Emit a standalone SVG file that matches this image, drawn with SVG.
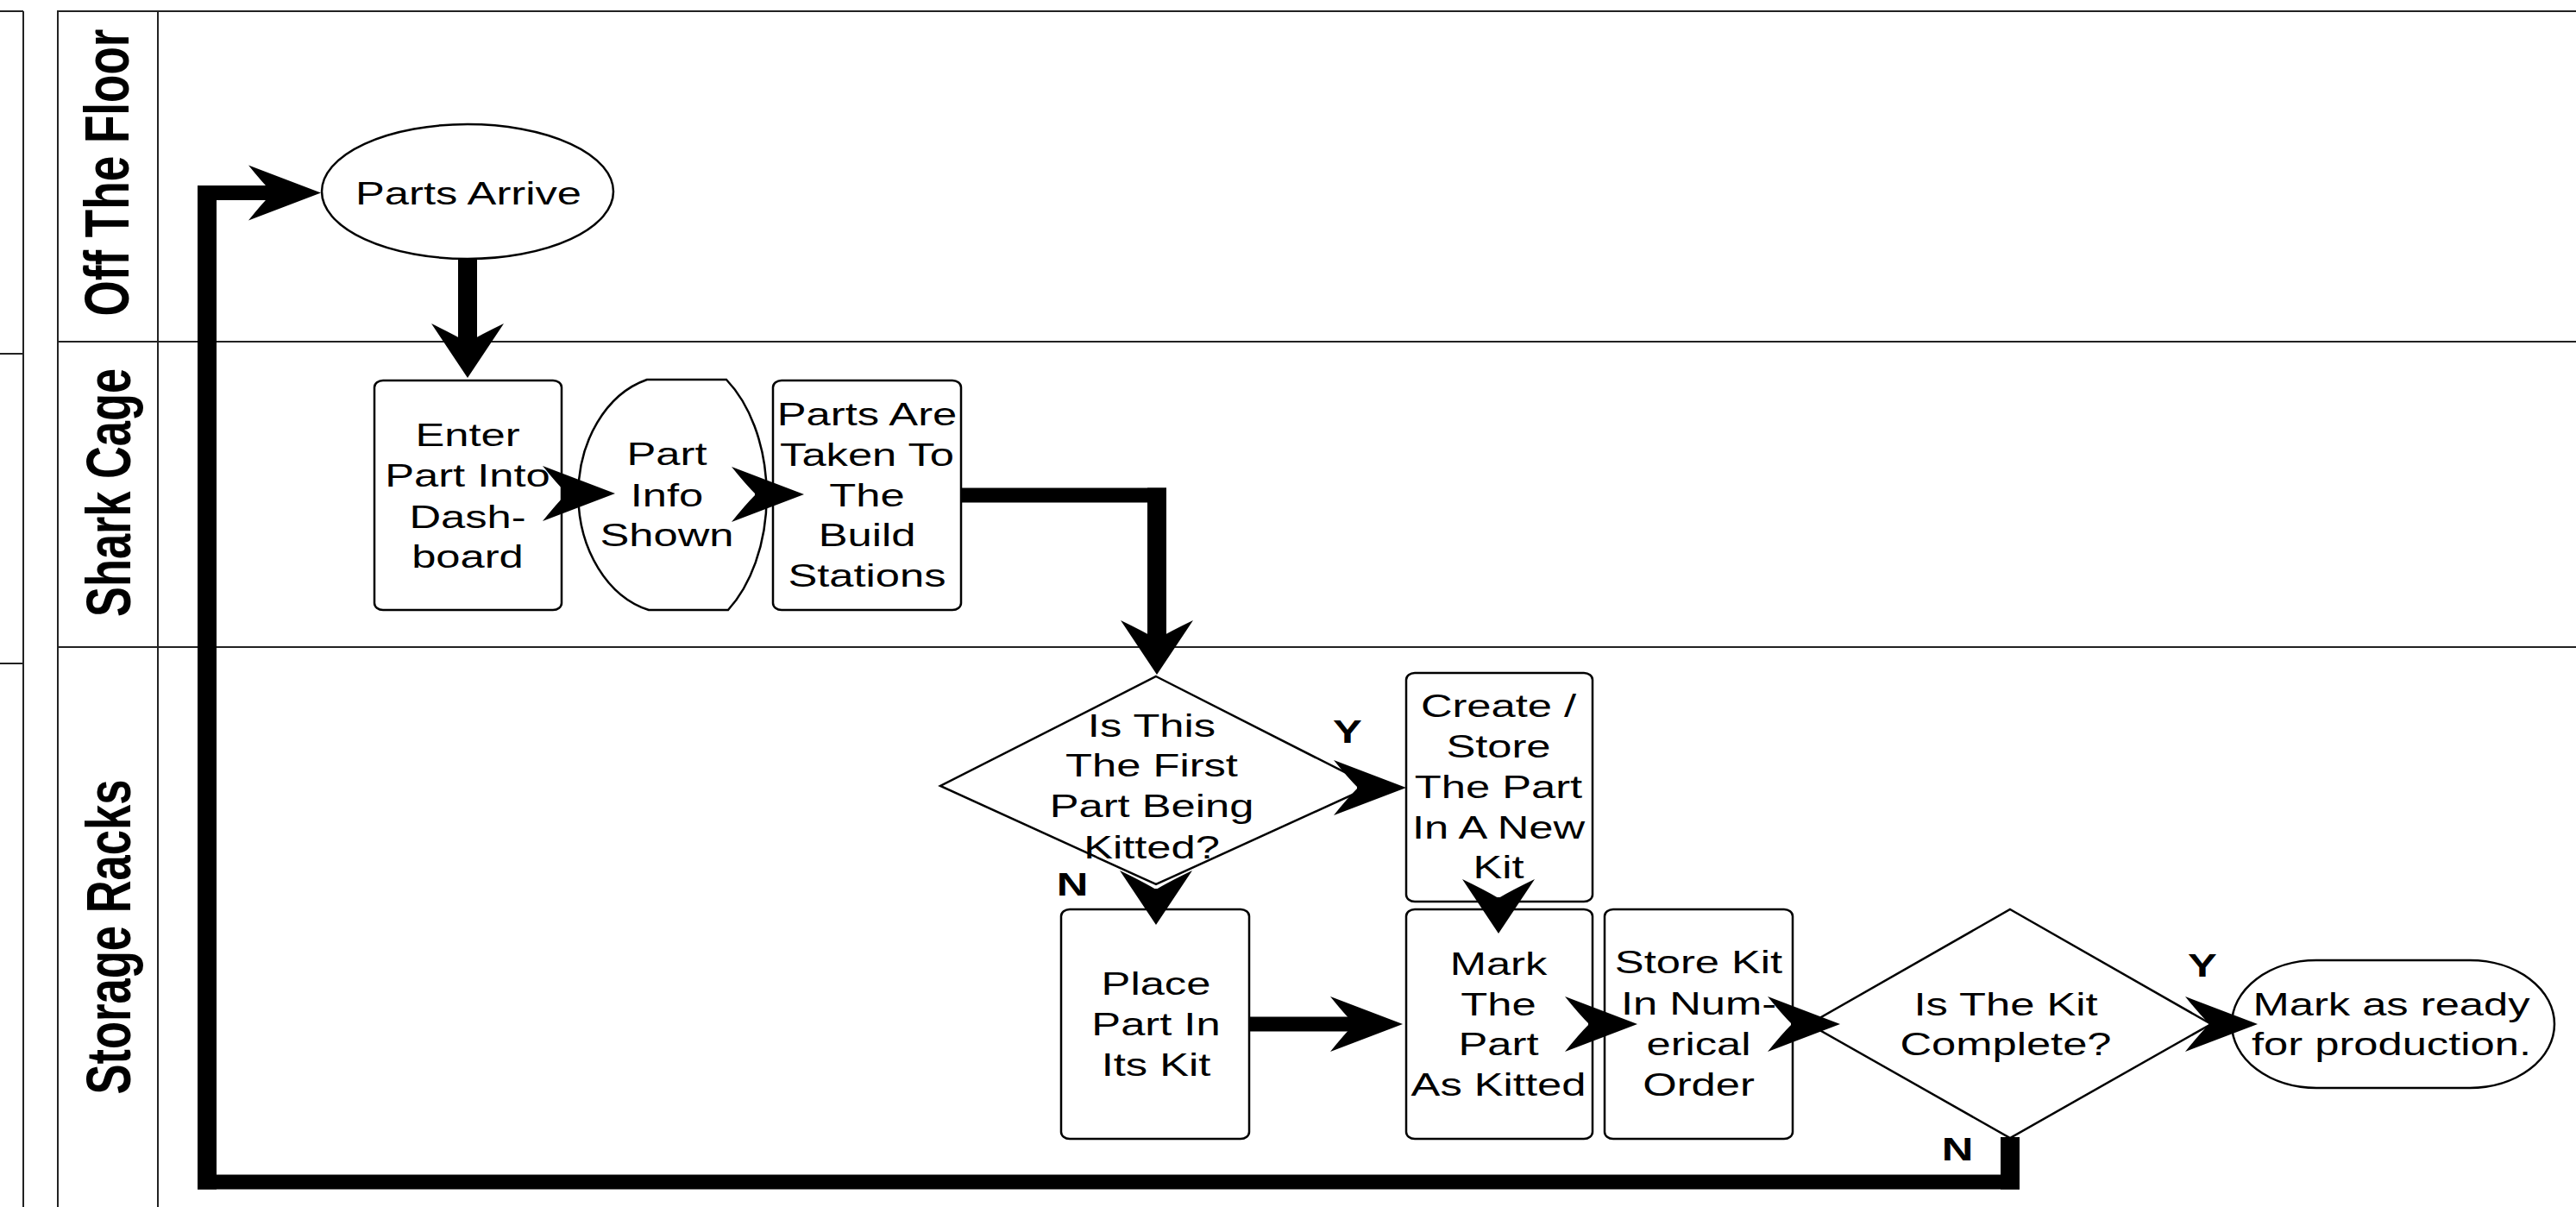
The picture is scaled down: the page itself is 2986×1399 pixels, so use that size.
<svg xmlns="http://www.w3.org/2000/svg" width="2986" height="1399" viewBox="0 0 2986 1399">
<defs>
<style>
.lane { fill:none; stroke:#222; stroke-width:2 }
.node { fill:#fff; stroke:#000; stroke-width:2.5 }
.t { font-family:"Liberation Sans", Arial, sans-serif; font-size:37px; fill:#000; text-anchor:middle }
.b { font-weight:bold }
.ll { font-family:"Liberation Sans", Arial, sans-serif; font-size:72px; font-weight:bold; text-anchor:middle; fill:#000 }
.ch { fill:none; stroke:#000; stroke-width:17 }
.cv { fill:none; stroke:#000; stroke-width:22 }
</style>
<marker id="ah" markerUnits="userSpaceOnUse" viewBox="-30 -34 88 68" refX="0" refY="0" markerWidth="88" markerHeight="68" orient="auto">
<path d="M56,0 L-28,-32 Q-12,-12 0,0 Q-12,12 -28,32 Z" fill="#000"/>
</marker>
<marker id="av" markerUnits="userSpaceOnUse" viewBox="-24 -44 67 88" refX="0" refY="0" markerWidth="67" markerHeight="88" orient="auto">
<path d="M41,0 L-22,-42 Q-9,-15 0,0 Q-9,15 -22,42 Z" fill="#000"/>
</marker>
</defs>
<rect x="0" y="0" width="2986" height="1399" fill="#fff"/>

<g id="left-panel" class="lane">
<line x1="0" y1="13" x2="27" y2="13"/>
<line x1="27" y1="13" x2="27" y2="1399"/>
<line x1="0" y1="410" x2="27" y2="410"/>
<line x1="0" y1="769" x2="27" y2="769"/>
</g>

<g id="pool" class="lane">
<rect x="67" y="13" width="3000" height="1500"/>
<line x1="183" y1="13" x2="183" y2="1399"/>
<line x1="67" y1="396" x2="2986" y2="396"/>
<line x1="67" y1="750" x2="2986" y2="750"/>
</g>

<g id="lane-labels">
<text class="ll" transform="translate(149,200) rotate(-90)" textLength="333" lengthAdjust="spacingAndGlyphs">Off The Floor</text>
<text class="ll" transform="translate(151,571) rotate(-90)" textLength="288" lengthAdjust="spacingAndGlyphs">Shark Cage</text>
<text class="ll" transform="translate(151,1086) rotate(-90)" textLength="365" lengthAdjust="spacingAndGlyphs">Storage Racks</text>
</g>

<g id="n-parts-arrive">
<ellipse class="node" cx="542" cy="222" rx="169" ry="78"/>
<text class="t" transform="matrix(1.37 0 0 1 543 0)"><tspan x="0" y="237">Parts Arrive</tspan></text>
</g>

<g id="n-enter">
<rect class="node" x="434" y="441" width="217" height="266" rx="10" ry="8"/>
<text class="t" transform="matrix(1.37 0 0 1 542 0)"><tspan x="0" y="517">Enter</tspan><tspan x="0" y="564">Part Into</tspan><tspan x="0" y="612">Dash-</tspan><tspan x="0" y="658">board</tspan></text>
</g>

<g id="n-part-info">
<path class="node" d="M750,440 L842,440 A109 164 0 0 1 844,707 L752,707 A108 138 0 0 1 750,440 Z"/>
<text class="t" transform="matrix(1.37 0 0 1 773 0)"><tspan x="0" y="539">Part</tspan><tspan x="0" y="587">Info</tspan><tspan x="0" y="633">Shown</tspan></text>
</g>

<g id="n-parts-taken">
<rect class="node" x="896" y="441" width="218" height="266" rx="10" ry="8"/>
<text class="t" transform="matrix(1.37 0 0 1 1005 0)"><tspan x="0" y="493">Parts Are</tspan><tspan x="0" y="540">Taken To</tspan><tspan x="0" y="587">The</tspan><tspan x="0" y="633">Build</tspan><tspan x="0" y="680">Stations</tspan></text>
</g>

<g id="n-first-part">
<polygon class="node" points="1340,784 1590,911 1340,1025 1090,911"/>
<text class="t" transform="matrix(1.37 0 0 1 1335 0)"><tspan x="0" y="854">Is This</tspan><tspan x="0" y="900">The First</tspan><tspan x="0" y="947">Part Being</tspan><tspan x="0" y="995">Kitted?</tspan></text>
</g>

<g id="n-create">
<rect class="node" x="1630" y="780" width="216" height="265" rx="10" ry="8"/>
<text class="t" transform="matrix(1.37 0 0 1 1737 0)"><tspan x="0" y="831">Create /</tspan><tspan x="0" y="878">Store</tspan><tspan x="0" y="925">The Part</tspan><tspan x="0" y="972">In A New</tspan><tspan x="0" y="1018">Kit</tspan></text>
</g>

<g id="n-place">
<rect class="node" x="1230" y="1054" width="218" height="266" rx="10" ry="8"/>
<text class="t" transform="matrix(1.37 0 0 1 1340 0)"><tspan x="0" y="1153">Place</tspan><tspan x="0" y="1200">Part In</tspan><tspan x="0" y="1247">Its Kit</tspan></text>
</g>

<g id="n-mark">
<rect class="node" x="1630" y="1054" width="216" height="266" rx="10" ry="8"/>
<text class="t" transform="matrix(1.37 0 0 1 1737 0)"><tspan x="0" y="1130">Mark</tspan><tspan x="0" y="1177">The</tspan><tspan x="0" y="1223">Part</tspan><tspan x="0" y="1270">As Kitted</tspan></text>
</g>

<g id="n-store">
<rect class="node" x="1860" y="1054" width="218" height="266" rx="10" ry="8"/>
<text class="t" transform="matrix(1.37 0 0 1 1969 0)"><tspan x="0" y="1128">Store Kit</tspan><tspan x="0" y="1176">In Num-</tspan><tspan x="0" y="1223">erical</tspan><tspan x="0" y="1270">Order</tspan></text>
</g>

<g id="n-kit-complete">
<polygon class="node" points="2330,1054 2563,1187 2330,1319 2097,1187"/>
<text class="t" transform="matrix(1.37 0 0 1 2325 0)"><tspan x="0" y="1177">Is The Kit</tspan><tspan x="0" y="1223">Complete?</tspan></text>
</g>

<g id="n-ready">
<rect class="node" x="2587" y="1113" width="374" height="148" rx="98" ry="74"/>
<text class="t" transform="matrix(1.37 0 0 1 2772 0)"><tspan x="0" y="1177">Mark as ready</tspan><tspan x="0" y="1223">for production.</tspan></text>
</g>

<g id="connectors">
<g id="c-loop">
<line class="cv" x1="2330" y1="1318" x2="2330" y2="1378.5"/>
<line class="ch" x1="2341" y1="1370" x2="229" y2="1370"/>
<line class="cv" x1="240" y1="1378.5" x2="240" y2="215"/>
<path class="ch" d="M229,223.5 H316" marker-end="url(#ah)"/>
</g>
<path id="c-arrive-enter" class="cv" d="M542,300 V397" marker-end="url(#av)"/>
<path id="c-enter-info" class="ch" d="M651,572 H657" marker-end="url(#ah)"/>
<path id="c-info-taken" class="ch" d="M875,573 H876" marker-end="url(#ah)"/>
<g id="c-taken-first">
<line class="ch" x1="1114" y1="574" x2="1352" y2="574"/>
<path class="cv" d="M1341,565.5 V741" marker-end="url(#av)"/>
</g>
<path id="c-first-create" class="ch" d="M1573,913 H1574" marker-end="url(#ah)"/>
<path id="c-first-place" class="cv" d="M1340,1030 V1031" marker-end="url(#av)"/>
<path id="c-create-mark" class="cv" d="M1737,1040 V1041" marker-end="url(#av)"/>
<path id="c-place-mark" class="ch" d="M1448,1187 H1570" marker-end="url(#ah)"/>
<path id="c-mark-store" class="ch" d="M1841,1187 H1842" marker-end="url(#ah)"/>
<path id="c-store-kit" class="ch" d="M2076,1187 H2077" marker-end="url(#ah)"/>
<path id="c-kit-ready" class="ch" d="M2560,1187 H2561" marker-end="url(#ah)"/>
</g>

<g id="labels">
<text class="t b" transform="matrix(1.37 0 0 1 1562 0)"><tspan x="0" y="861">Y</tspan></text>
<text class="t b" transform="matrix(1.37 0 0 1 1243 0)"><tspan x="0" y="1038">N</tspan></text>
<text class="t b" transform="matrix(1.37 0 0 1 2553 0)"><tspan x="0" y="1132">Y</tspan></text>
<text class="t b" transform="matrix(1.37 0 0 1 2269 0)"><tspan x="0" y="1345">N</tspan></text>
</g>
</svg>
